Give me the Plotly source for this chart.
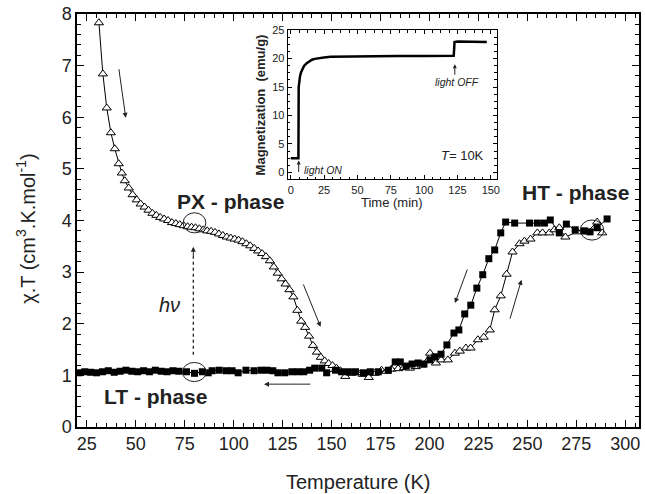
import plotly.graph_objects as go

# ---- main data: open triangles (PX -> LT -> HT, warming) ----
tri_T = [31.2, 33.2, 35.2, 37.3, 39.3, 41.3, 42.9, 44.4, 46.4, 48.4, 50.5, 52.5, 54.5, 56.5, 58.5,
         60.5, 62.5, 64.5, 66.5, 68.5, 70.5, 72.5, 74.5, 76.5, 78.5, 80.5, 82.5, 84.5, 86.5, 88.5,
         90.5, 92.5, 94.5, 96.5, 98.5, 100.5, 102.5, 104.5, 106.5, 108.5, 110.5, 112.5, 114.5, 116.5,
         118.5, 120.5, 122.5, 124.5, 126.5, 128.5, 130.5, 132.5, 134.5, 136.5, 138.5, 140.5, 142.5,
         144.5, 146.5, 148.5, 150.5, 152.5, 154.5, 157, 160, 163.5, 166, 169, 172, 175.5, 178, 180.5,
         184, 187, 190, 193, 196, 200.3, 203.3, 206, 209.4, 213, 215.5, 218.6, 221, 224.7, 227.7,
         230.8, 233.3, 236.4, 239.4, 242.4, 246, 248.5, 251.6, 255.1, 257.7, 261.2, 263.8, 266.3,
         269.4, 275.5, 280.5, 285.6, 288.2]
tri_chiT = [7.83, 6.84, 6.18, 5.70, 5.39, 5.10, 4.92, 4.77, 4.63, 4.50, 4.40, 4.32, 4.26, 4.20, 4.14,
            4.10, 4.06, 4.03, 4.00, 3.96, 3.94, 3.92, 3.90, 3.88, 3.87, 3.86, 3.84, 3.82, 3.80, 3.79,
            3.77, 3.74, 3.71, 3.68, 3.66, 3.64, 3.62, 3.59, 3.55, 3.51, 3.46, 3.41, 3.36, 3.30,
            3.22, 3.10, 2.98, 2.87, 2.77, 2.66, 2.52, 2.26, 2.05, 1.93, 1.76, 1.58, 1.45,
            1.35, 1.28, 1.23, 1.19, 1.14, 1.09, 0.98, 1.04, 1.05, 1.02, 0.96, 1.04, 1.10, 1.08, 1.12,
            1.13, 1.15, 1.14, 1.17, 1.20, 1.43, 1.24, 1.30, 1.30, 1.43, 1.47, 1.53, 1.53, 1.69, 1.74,
            1.88, 2.27, 2.54, 2.96, 3.39, 3.55, 3.60, 3.64, 3.76, 3.76, 3.76, 3.82, 3.86,
            3.68, 3.78, 3.78, 3.97, 3.76]

# ---- main data: filled squares (HT -> LT, cooling) ----
sq_T = [21, 24, 27, 30, 33, 36, 39, 42, 45, 48, 51, 54, 57, 60, 63, 66, 69, 72, 75.9, 80, 84, 87, 89,
        92.6, 96.2, 99.2, 102.3, 106.3, 110.4, 114, 117, 120, 122.6, 126.1, 129.7, 132.7, 135.8,
        138.8, 141.4, 145, 147.5, 152, 155.1, 158.6, 162.2, 166.3, 169.8, 173.9, 179, 182.5, 185.1,
        188.1, 191.1, 194.2, 197.2, 200.3, 202.8, 205.9, 208.9, 212.5, 215, 218, 221.1, 224.2,
        227.2, 230.3, 233.3, 236.4, 238.9, 243.5, 251.1, 255.1, 258.7, 261.7, 266.3, 269.9, 274.4,
        279, 282, 285.6, 290.7]
sq_chiT = [1.05, 1.07, 1.06, 1.05, 1.07, 1.09, 1.06, 1.08, 1.10, 1.08, 1.07, 1.09, 1.07, 1.10, 1.08,
           1.07, 1.09, 1.08, 1.07, 1.04, 1.07, 1.05, 1.09, 1.10, 1.09, 1.09, 1.05, 1.10, 1.09, 1.10,
           1.10, 1.09, 1.05, 1.05, 1.07, 1.07, 1.07, 1.10, 1.14, 1.14, 1.05, 1.10, 1.07, 1.07, 1.07,
           1.05, 1.07, 1.07, 1.10, 1.26, 1.26, 1.18, 1.22, 1.24, 1.22, 1.30, 1.36, 1.41, 1.59, 1.82,
           1.88, 2.19, 2.36, 2.69, 2.95, 3.26, 3.43, 3.76, 3.97, 3.95, 3.95, 3.95, 3.95, 4.01, 3.76,
           3.93, 3.82, 3.80, 3.78, 3.86, 4.03]

# ---- inset data: magnetization vs time at 10 K ----
time_min = [0, 2, 4, 5.8, 6.0, 6.4, 7.0, 7.8, 8.8, 10, 12, 14, 16, 18, 20, 25, 30, 40, 50, 60, 80,
            100, 120, 122.2, 122.5, 122.8, 125, 130, 140, 147]
magnet = [2.5, 2.5, 2.5, 2.5, 15.0, 16.0, 16.9, 17.6, 18.2, 18.7, 19.2, 19.55, 19.8, 19.95, 20.05,
          20.2, 20.3, 20.35, 20.4, 20.4, 20.45, 20.45, 20.5, 20.5, 21.6, 22.9, 23.0, 23.0, 22.95, 22.9]

FONT = "Arial, Liberation Sans, sans-serif"

fig = go.Figure()
fig.add_trace(go.Scatter(x=tri_T, y=tri_chiT, mode="lines+markers",
                         line=dict(color="black", width=1),
                         marker=dict(symbol="triangle-up", size=8, color="white",
                                     line=dict(color="black", width=1)),
                         showlegend=False, xaxis="x", yaxis="y"))
fig.add_trace(go.Scatter(x=sq_T, y=sq_chiT, mode="lines+markers",
                         line=dict(color="black", width=1),
                         marker=dict(symbol="square", size=7, color="black", line=dict(width=0)),
                         showlegend=False, xaxis="x", yaxis="y"))
fig.add_trace(go.Scatter(x=time_min, y=magnet, mode="lines",
                         line=dict(color="black", width=2.5),
                         showlegend=False, xaxis="x2", yaxis="y2"))

axis_common = dict(showline=True, linecolor="black", mirror="ticks", ticks="inside",
                   tickcolor="black", showgrid=False, zeroline=False)

fig.update_layout(
    width=645, height=494,
    margin=dict(l=77, r=3, t=14, b=67),
    paper_bgcolor="white", plot_bgcolor="white",
    font=dict(family=FONT, color="#222"),
    xaxis=dict(range=[20, 307], tick0=25, dtick=25, ticklen=7, tickwidth=1.3, linewidth=1.5,
               tickfont=dict(size=18), domain=[0, 1],
               minor=dict(dtick=5, ticklen=4, tickwidth=1.3, ticks="inside", tickcolor="black"),
               **axis_common),
    yaxis=dict(range=[0, 8], tick0=0, dtick=1, ticklen=7, tickwidth=1.3, linewidth=1.5,
               tickfont=dict(size=18), domain=[0, 1],
               minor=dict(dtick=0.2, ticklen=4, tickwidth=1.3, ticks="inside", tickcolor="black"),
               **axis_common),
    xaxis2=dict(range=[-2.2, 154.5], tick0=0, dtick=25, ticklen=4, tickwidth=1, linewidth=1.2,
                tickfont=dict(size=11), domain=[0.375, 0.747], anchor="y2",
                minor=dict(dtick=6.25, ticklen=2.5, tickwidth=1, ticks="inside", tickcolor="black"),
                **axis_common),
    yaxis2=dict(range=[-1.2, 25], tick0=0, dtick=5, ticklen=4, tickwidth=1, linewidth=1.2,
                tickfont=dict(size=11), domain=[0.600, 0.961], anchor="x2",
                minor=dict(dtick=1.25, ticklen=2.5, tickwidth=1, ticks="inside", tickcolor="black"),
                **axis_common),
)

ann = []
# axis titles
ann.append(dict(text="Temperature (K)", xref="paper", yref="paper", x=0.5, y=-0.133,
                showarrow=False, font=dict(size=20), xanchor="center", yanchor="middle"))
ann.append(dict(text="χ.T (cm<sup>3</sup>.K.mol<sup>-1</sup>)", xref="paper", yref="paper",
                x=0, xshift=-51, y=0.48, textangle=-90, showarrow=False, font=dict(size=20),
                xanchor="center", yanchor="middle"))
# phase labels
for txt, tx, ty in [("PX - phase", 98.2, 4.36), ("LT - phase", 60.1, 0.60), ("HT - phase", 274.4, 4.55)]:
    ann.append(dict(text="<b>" + txt + "</b>", x=tx, y=ty, xref="x", yref="y", showarrow=False,
                    font=dict(size=21, color="#222"), xanchor="center", yanchor="middle"))
ann.append(dict(text="<i>hν</i>", x=67, y=2.36, xref="x", yref="y", showarrow=False,
                font=dict(size=20, color="#222"), xanchor="center", yanchor="middle"))
# arrows in main plot (head x,y ; tail ax,ay)
for (hx, hy, tx, ty) in [(44.9, 5.99, 41.3, 6.96), (144.4, 1.94, 135.3, 2.79),
                         (115.5, 0.83, 139.9, 0.83), (213.0, 2.40, 219.6, 3.08),
                         (247.0, 2.85, 240.9, 2.07), (79.4, 3.49, 79.4, 3.25)]:
    ann.append(dict(x=hx, y=hy, ax=tx, ay=ty, xref="x", yref="y", axref="x", ayref="y",
                    text="", showarrow=True, arrowhead=2, arrowsize=1, arrowwidth=1,
                    arrowcolor="#222"))
# inset texts
ann.append(dict(text="<b>Magnetization  (emu/g)</b>", xref="paper", yref="paper",
                x=0.375, xshift=-27, y=(0.600 + 0.961) / 2, textangle=-90, showarrow=False,
                font=dict(size=13), xanchor="center", yanchor="middle"))
ann.append(dict(text="Time (min)", xref="paper", yref="paper", x=(0.375 + 0.747) / 2,
                y=0.600, yshift=-23, showarrow=False, font=dict(size=13),
                xanchor="center", yanchor="middle"))
ann.append(dict(text="<i>light ON</i>", x=24, y=0.5, xref="x2", yref="y2", showarrow=False,
                font=dict(size=10.5), xanchor="center", yanchor="middle"))
ann.append(dict(text="<i>light OFF</i>", x=124.6, y=15.8, xref="x2", yref="y2", showarrow=False,
                font=dict(size=10.5), xanchor="center", yanchor="middle"))
ann.append(dict(text="<i>T</i>= 10K", x=129, y=3.0, xref="x2", yref="y2", showarrow=False,
                font=dict(size=13), xanchor="center", yanchor="middle"))
for (hx, hy, tx, ty) in [(6.0, 2.1, 6.0, -0.2), (123.0, 19.0, 123.0, 16.9)]:
    ann.append(dict(x=hx, y=hy, ax=tx, ay=ty, xref="x2", yref="y2", axref="x2", ayref="y2",
                    text="", showarrow=True, arrowhead=2, arrowsize=0.8, arrowwidth=1,
                    arrowcolor="#222"))
fig.update_layout(annotations=ann)

shapes = [
    dict(type="line", xref="x", yref="y", x0=79.4, x1=79.4, y0=1.40, y1=3.3,
         line=dict(color="#222", width=1.3, dash="dot")),
    dict(type="circle", xref="x", yref="y", x0=74.2, x1=85.8, y0=3.76, y1=4.15,
         line=dict(color="#222", width=1)),
    dict(type="circle", xref="x", yref="y", x0=73.8, x1=86.0, y0=0.88, y1=1.25,
         line=dict(color="#222", width=1)),
    dict(type="circle", xref="x", yref="y", x0=277, x1=289, y0=3.62, y1=4.01,
         line=dict(color="#222", width=1)),
]
fig.update_layout(shapes=shapes)

fig.write_html("out.html")
